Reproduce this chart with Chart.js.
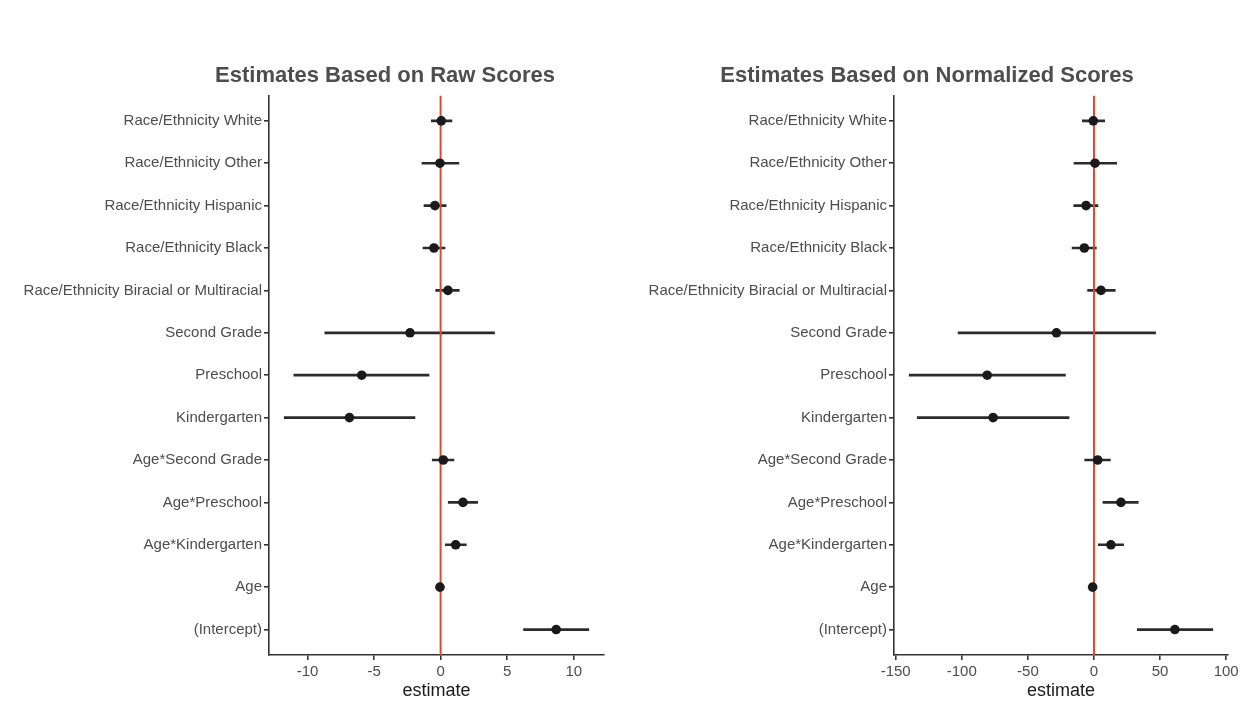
<!DOCTYPE html>
<html>
<head>
<meta charset="utf-8">
<title>Coefficient estimates</title>
<script src="https://cdn.jsdelivr.net/npm/chart.js@4/dist/chart.umd.min.js"></script>
<style>
  html, body { margin: 0; padding: 0; background: #ffffff; }
  #wrap { position: relative; width: 1244px; height: 702px; overflow: hidden; }
  canvas { position: absolute; top: 0; }
  #rawChart { left: 0; }
  #normChart { left: 622px; }
</style>
</head>
<body>
<div id="wrap">
  <canvas id="rawChart" width="770" height="702"></canvas>
  <canvas id="normChart" width="622" height="702"></canvas>
</div>
<script>
// Model terms, listed top to bottom
const categories = [
  'Race/Ethnicity White',
  'Race/Ethnicity Other',
  'Race/Ethnicity Hispanic',
  'Race/Ethnicity Black',
  'Race/Ethnicity Biracial or Multiracial',
  'Second Grade',
  'Preschool',
  'Kindergarten',
  'Age*Second Grade',
  'Age*Preschool',
  'Age*Kindergarten',
  'Age',
  '(Intercept)'
];

// Raw-score model: point estimates and interval bounds
const rawEstimate = [0.05, -0.05, -0.43, -0.5, 0.55, -2.3, -5.93, -6.85, 0.2, 1.68, 1.13, -0.05, 8.68];
const rawLower    = [-0.7, -1.4, -1.25, -1.33, -0.37, -8.7, -11.03, -11.75, -0.63, 0.57, 0.35, -0.22, 6.23];
const rawUpper    = [0.85, 1.37, 0.42, 0.33, 1.4, 4.05, -0.87, -1.93, 1.0, 2.78, 1.93, 0.12, 11.13];

// Normalized-score model: point estimates and interval bounds
const normEstimate = [-0.5, 0.8, -6.0, -7.3, 5.3, -28.4, -80.8, -76.3, 2.8, 20.4, 12.8, -1.0, 61.2];
const normLower    = [-8.8, -15.1, -15.3, -16.6, -4.8, -102.8, -139.8, -133.7, -7.0, 6.8, 3.3, -3.5, 32.8];
const normUpper    = [8.1, 17.2, 3.0, 1.8, 16.1, 46.6, -21.6, -18.9, 12.4, 33.5, 22.4, 1.5, 89.9];

// Estimate-axis tick labels
const rawTicks  = [-10, -5, 0, 5, 10];
const normTicks = [-150, -100, -50, 0, 50, 100];

const FONT = "'Liberation Sans', Arial, Helvetica, sans-serif";
const LABEL_GREY = '#4d4d4d';
const AXIS_COLOR = '#333333';
const REF_RED = '#dc4a36';

// row position of each term: top row gets the highest value
const rowPos = categories.map((_, i) => categories.length - i);
const yMin = 1 - 0.6;
const yMax = categories.length + 0.6;

function expandRange(lo, hi) {
  const mn = Math.min(...lo), mx = Math.max(...hi);
  const pad = (mx - mn) * 0.05;
  return [mn - pad, mx + pad];
}

function forestChart(canvasId, cfg) {
  const [xMin, xMax] = expandRange(cfg.lower, cfg.upper);
  const intervals = cfg.estimate.map((_, i) => ({ x: [cfg.lower[i], cfg.upper[i]], y: rowPos[i] }));
  const points = cfg.estimate.map((v, i) => ({ x: v, y: rowPos[i] }));

  const scales = {
    x: {
      type: 'linear',
      position: 'bottom',
      min: xMin,
      max: xMax,
      offset: false,
      afterBuildTicks: (scale) => { scale.ticks = cfg.ticks.map(v => ({ value: v })); },
      afterFit: (scale) => { scale.height = 47; },
      ticks: {
        color: LABEL_GREY,
        font: { family: FONT, size: 15 },
        padding: 3,
        maxRotation: 0,
        autoSkip: false,
        callback: (v) => String(v)
      },
      grid: {
        display: true,
        offset: false,
        drawOnChartArea: false,
        drawTicks: true,
        tickLength: 5,
        color: AXIS_COLOR,
        lineWidth: 1.6
      },
      border: { display: true, color: AXIS_COLOR, width: 1.6 },
      title: {
        display: true,
        text: 'estimate',
        color: '#1a1a1a',
        font: { family: FONT, size: 18, lineHeight: 1.2 },
        padding: { top: 0, bottom: 0 }
      }
    },
    y: {
      type: 'linear',
      position: 'left',
      min: yMin,
      max: yMax,
      offset: false,
      afterBuildTicks: (scale) => { scale.ticks = rowPos.map(v => ({ value: v })); },
      afterFit: (scale) => { scale.width = cfg.axisWidth; },
      ticks: {
        color: LABEL_GREY,
        font: { family: FONT, size: 15 },
        padding: 2,
        autoSkip: false,
        callback: (v) => categories[categories.length - v]
      },
      grid: {
        display: true,
        offset: false,
        drawOnChartArea: false,
        drawTicks: true,
        tickLength: 5,
        color: AXIS_COLOR,
        lineWidth: 1.6
      },
      border: { display: true, color: AXIS_COLOR, width: 1.6 }
    }
  };

  // empty spacer on the right so the heading sits where it belongs
  if (cfg.rightGap) {
    scales.gap = {
      type: 'linear',
      position: 'right',
      min: 0,
      max: 1,
      afterFit: (scale) => { scale.width = cfg.rightGap; },
      ticks: { display: false },
      grid: { display: false },
      border: { display: false }
    };
  }

  return new Chart(document.getElementById(canvasId), {
    type: 'bar',
    data: {
      datasets: [
        {
          type: 'scatter',
          label: 'estimate',
          data: points,
          pointRadius: 4.8,
          pointHoverRadius: 4.8,
          pointBackgroundColor: '#1a1a1a',
          pointBorderColor: '#1a1a1a',
          pointBorderWidth: 0,
          order: 0
        },
        {
          type: 'line',
          label: 'zero',
          data: [{ x: 0, y: yMin }, { x: 0, y: yMax }],
          borderColor: REF_RED,
          borderWidth: 2,
          pointRadius: 0,
          fill: false,
          order: 1
        },
        {
          type: 'bar',
          label: 'interval',
          indexAxis: 'y',
          data: intervals,
          backgroundColor: '#2b2b2b',
          borderWidth: 0,
          barThickness: 2,
          order: 2
        }
      ]
    },
    options: {
      responsive: false,
      animation: false,
      devicePixelRatio: 1,
      layout: { padding: { left: cfg.padLeft, right: cfg.padRight, top: 0, bottom: 0 } },
      plugins: {
        legend: { display: false },
        tooltip: { enabled: false },
        title: {
          display: true,
          text: cfg.title,
          color: LABEL_GREY,
          font: { family: FONT, size: 22, weight: 'bold', lineHeight: 1.2 },
          padding: { top: 63, bottom: 6 }
        }
      },
      scales: scales
    }
  });
}

forestChart('rawChart', {
  title: 'Estimates Based on Raw Scores',
  estimate: rawEstimate,
  lower: rawLower,
  upper: rawUpper,
  ticks: rawTicks,
  padLeft: 0,
  padRight: 0,
  axisWidth: 269,
  rightGap: 166
});

forestChart('normChart', {
  title: 'Estimates Based on Normalized Scores',
  estimate: normEstimate,
  lower: normLower,
  upper: normUpper,
  ticks: normTicks,
  padLeft: 4,
  padRight: 16,
  axisWidth: 268,
  rightGap: 0
});
</script>
</body>
</html>
